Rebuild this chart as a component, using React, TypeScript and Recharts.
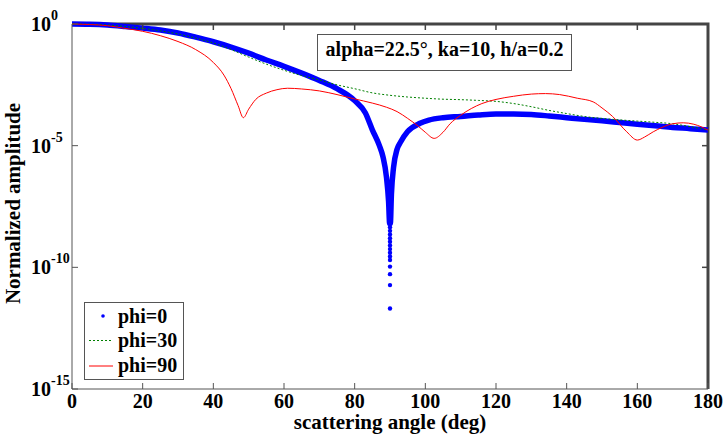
import { ComposedChart, Line, Scatter, XAxis, YAxis, Legend } from "recharts";

// log10 of the normalized amplitude
const phi0Angles = [0, 5, 10, 15, 20, 25, 30, 35, 40, 45, 50, 55, 60, 65, 70, 75, 80, 83, 85, 87, 88, 89, 89.6, 89.9, 90.1, 90.4, 91, 92, 93, 95, 98.5, 101, 105, 110, 115, 120, 125, 130, 135, 140, 145, 150, 155, 160, 165, 170, 175, 180];
const phi0Exp = [0, -0.01, -0.04, -0.1, -0.17, -0.25, -0.37, -0.54, -0.73, -0.95, -1.2, -1.48, -1.74, -2.02, -2.32, -2.66, -3.15, -3.65, -4.35, -5.0, -5.45, -6.3, -7.3, -8.2, -8.2, -7.0, -5.9, -5.15, -4.85, -4.42, -4.08, -3.95, -3.85, -3.8, -3.74, -3.7, -3.7, -3.72, -3.78, -3.85, -3.92, -3.98, -4.05, -4.12, -4.18, -4.25, -4.3, -4.36];

// isolated points at the bottom of the 90 degree null
const phi0DipExp = [-8.35, -8.5, -8.65, -8.8, -8.95, -9.1, -9.25, -9.4, -9.55, -9.7, -9.97, -10.28, -10.73, -11.69];

const phi30Angles = [0, 5, 10, 15, 20, 25, 30, 35, 40, 45, 50, 55, 60, 65, 70, 75, 80, 85, 90, 95, 100, 105, 110, 115, 120, 125, 130, 135, 140, 145, 150, 155, 160, 165, 170, 175, 180];
const phi30Exp = [0, -0.01, -0.04, -0.1, -0.18, -0.28, -0.41, -0.58, -0.78, -1.05, -1.36, -1.65, -1.9, -2.12, -2.3, -2.5, -2.66, -2.83, -2.93, -3.0, -3.05, -3.09, -3.11, -3.14, -3.18, -3.27, -3.4, -3.55, -3.68, -3.8, -3.88, -3.94, -3.99, -4.04, -4.1, -4.22, -4.36];

const phi90Angles = [0, 5, 10, 15, 20, 25, 30, 35, 40, 43, 45, 47, 48.5, 50, 52, 55, 58, 61, 65, 70, 75, 80, 85, 89, 92, 95, 98, 100, 102.5, 105, 107, 110, 116, 120, 125, 130, 134, 138, 143, 147.5, 150, 153, 157, 160, 162, 164.5, 167, 170, 173, 176, 178, 180];
const phi90Exp = [0, -0.02, -0.07, -0.18, -0.3, -0.48, -0.72, -1.05, -1.58, -2.1, -2.65, -3.35, -3.85, -3.5, -3.1, -2.84, -2.7, -2.64, -2.67, -2.75, -2.9, -3.08, -3.25, -3.42, -3.6, -3.88, -4.2, -4.45, -4.7, -4.45, -4.1, -3.75, -3.27, -3.1, -2.97, -2.88, -2.86, -2.9, -3.05, -3.2, -3.45, -3.8, -4.43, -4.77, -4.65, -4.43, -4.25, -4.1, -4.06, -4.12, -4.22, -4.36];

const xTicks = [0, 20, 40, 60, 80, 100, 120, 140, 160, 180];
const yTicks = [1e-15, 1e-10, 1e-5, 1];
const xMax = 180;
const yMin = 1e-15;
const yMax = 1;
const seriesNames = ["phi=0", "phi=30", "phi=90"];
const annotation = "alpha=22.5°, ka=10, h/a=0.2";

const FONT = '"Times New Roman", "Liberation Serif", serif';
const AXIS = "#555";
const FRAME = "#444";

const toPoints = (xs: number[], es: number[]) =>
  xs.map((x, i) => ({ x, y: Math.pow(10, es[i]) }));

const phi0Data = toPoints(phi0Angles, phi0Exp);
const phi0Dip = phi0DipExp.map((e) => ({ x: 90, y: Math.pow(10, e) }));
const phi30Data = toPoints(phi30Angles, phi30Exp);
const phi90Data = toPoints(phi90Angles, phi90Exp);

// closing box: along the top edge through every x tick, then down the right edge through every y tick
const frameData = [
  ...xTicks.map((x) => ({ x, y: yMax })),
  ...[...yTicks].reverse().slice(1).map((y) => ({ x: xMax, y })),
];

const BottomTick = (props: any) => {
  const { x, y, payload } = props;
  return (
    <g>
      <line x1={x} x2={x} y1={y} y2={y - 6} stroke={AXIS} />
      <text x={x} y={y + 19} textAnchor="middle" fontSize={20} fontWeight="bold" fontFamily={FONT} fill="#000">
        {payload.value}
      </text>
    </g>
  );
};

const LeftTick = (props: any) => {
  const { x, y, payload } = props;
  const exp = Math.round(Math.log10(payload.value));
  return (
    <g>
      <line x1={x} x2={x + 6} y1={y} y2={y} stroke={AXIS} />
      <text x={x - 41} y={y + 7} fontSize={20} fontWeight="bold" fontFamily={FONT} fill="#000">
        10
        <tspan dy={-11} fontSize={14}>{String(exp)}</tspan>
      </text>
    </g>
  );
};

// inward tick stubs on the top and right edges of the box
const FrameTick = (p: any) => {
  const { cx, cy, payload } = p;
  if (cx == null || cy == null || !payload) return null;
  if (payload.y === yMax && payload.x > 0 && payload.x < xMax) {
    return <line x1={cx} x2={cx} y1={cy} y2={cy + 6} stroke={FRAME} strokeWidth={1.5} />;
  }
  if (payload.x === xMax && payload.y < yMax && payload.y > yMin) {
    return <line x1={cx} x2={cx - 6} y1={cy} y2={cy} stroke={FRAME} strokeWidth={1.5} />;
  }
  return null;
};

const DipDot = (props: any) => <circle cx={props.cx} cy={props.cy} r={2.2} fill="#0000ff" />;

const LegendBox = () => {
  const txt = { fontSize: 20, fontWeight: "bold" as const, fontFamily: FONT, fill: "#000" };
  return (
    <svg width={100} height={78} style={{ display: "block" }}>
      <rect x={0.5} y={0.5} width={99} height={77} fill="#fff" stroke={AXIS} />
      <circle cx={19} cy={14} r={1.8} fill="#0000ff" />
      <text x={34} y={21} {...txt}>{seriesNames[0]}</text>
      <line x1={5} x2={29} y1={38.5} y2={38.5} stroke="#008000" strokeDasharray="2 2" />
      <text x={34} y={45} {...txt}>{seriesNames[1]}</text>
      <line x1={5} x2={29} y1={64} y2={64} stroke="#ff0000" />
      <text x={34} y={70} {...txt}>{seriesNames[2]}</text>
    </svg>
  );
};

export default function App() {
  return (
    <div style={{ position: "absolute", left: 0, top: 0, width: 724, height: 437, background: "#fff" }}>
      <ComposedChart width={724} height={437} margin={{ top: 24, right: 16, bottom: 0, left: 0 }}>
        <XAxis
          dataKey="x"
          type="number"
          domain={[0, xMax]}
          ticks={xTicks}
          height={48}
          stroke={AXIS}
          tickSize={0}
          tickMargin={0}
          tick={<BottomTick />}
          label={(p: any) => {
            const vb = p.viewBox ?? { x: 72, y: 389, width: 636, height: 48 };
            return (
              <text x={vb.x + vb.width / 2} y={vb.y + 40} textAnchor="middle" fontSize={21} fontWeight="bold" fontFamily={FONT} fill="#000">
                scattering angle (deg)
              </text>
            );
          }}
        />
        <YAxis
          dataKey="y"
          type="number"
          scale="log"
          domain={[yMin, yMax]}
          ticks={yTicks}
          width={72}
          stroke={AXIS}
          tickSize={0}
          tickMargin={0}
          tick={<LeftTick />}
          label={(p: any) => {
            const vb = p.viewBox ?? { x: 0, y: 24, width: 72, height: 365 };
            const cy = vb.y + vb.height / 2 - 3;
            return (
              <text x={20} y={cy} transform={`rotate(-90, 20, ${cy})`} textAnchor="middle" fontSize={21} fontWeight="bold" fontFamily={FONT} fill="#000">
                Normalized amplitude
              </text>
            );
          }}
        />
        <Line data={frameData} dataKey="y" type="linear" stroke={FRAME} strokeWidth={3} dot={<FrameTick />} activeDot={false} legendType="none" isAnimationActive={false} />
        <Line data={phi0Data} dataKey="y" name={seriesNames[0]} type="monotone" stroke="#0000ff" strokeWidth={5.5} dot={false} isAnimationActive={false} />
        <Scatter data={phi0Dip} dataKey="y" legendType="none" fill="#0000ff" shape={<DipDot />} isAnimationActive={false} />
        <Line data={phi30Data} dataKey="y" name={seriesNames[1]} type="monotone" stroke="#008000" strokeWidth={1} strokeDasharray="2 2" dot={false} isAnimationActive={false} />
        <Line data={phi90Data} dataKey="y" name={seriesNames[2]} type="monotone" stroke="#ff0000" strokeWidth={1} dot={false} isAnimationActive={false} />
        <Legend
          layout="vertical"
          align="center"
          verticalAlign="middle"
          content={() => <LegendBox />}
          wrapperStyle={{ left: 84, top: 302, width: 100, height: 78, bottom: "auto", right: "auto" }}
        />
      </ComposedChart>
      <svg width={724} height={437} style={{ position: "absolute", left: 0, top: 0, pointerEvents: "none" }}>
        <rect x={317.5} y={34.5} width={254} height={36} fill="#fff" stroke={AXIS} />
        <text x={444.5} y={56} textAnchor="middle" fontSize={20} fontWeight="bold" fontFamily={FONT} fill="#000">
          {annotation}
        </text>
      </svg>
    </div>
  );
}
